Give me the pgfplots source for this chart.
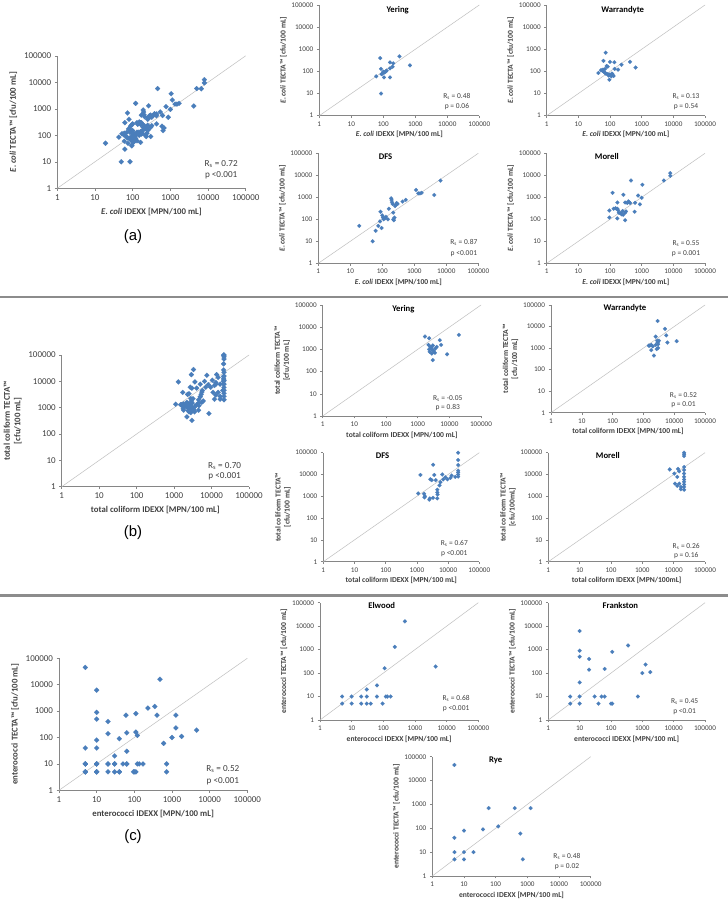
\documentclass[border=0pt]{standalone}
\usepackage{fontspec}
\setmainfont{Carlito}
\newfontfamily\arialfont{Liberation Sans}
\usepackage{pgfplots}
\usepackage{pgfplotstable}
\pgfplotsset{compat=1.18}
\definecolor{mk}{HTML}{4A7EBB}
\definecolor{axg}{HTML}{868686}
\definecolor{diag}{HTML}{BFBFBF}
\definecolor{tl}{HTML}{404040}
\definecolor{sep}{HTML}{8C8C8C}

% ---------- E. coli ----------
\pgfplotstableread{
x y
80 400
85 130
85 10
320 480
60 60
100 97
127 108
105 54
88 76
162 257
205 230
162 138
195 163
162 54
680 188
110 90
120 100
95 80
}\EYer
\pgfplotstableread{
x y
73 700
62 300
100 270
137 260
430 270
230 200
640 150
140 130
78 175
85 165
43 85
52 115
58 105
65 95
70 85
75 78
85 75
95 72
100 68
90 65
110 60
120 75
130 62
95 42
70 130
60 120
115 80
180 120
}\EWar
\pgfplotstableread{
x y
19 50
50 10
62 30
75 50
85 80
88 220
95 40
100 150
105 120
110 100
120 110
150 100
160 300
190 900
195 750
200 600
210 500
220 200
230 90
240 120
250 400
260 450
280 550
300 500
430 640
540 760
1130 2150
1330 1500
1500 1500
1700 1600
4200 1270
6600 5700
220 100
130 130
}\EDFS
\pgfplotstableread{
x y
120 1600
460 5800
1050 3700
5000 5800
8000 12500
8000 9500
265 1300
770 1200
380 650
430 550
300 580
620 560
880 480
1000 950
170 580
95 250
95 120
130 300
150 320
170 300
180 260
170 110
190 200
210 190
230 170
250 240
260 160
300 90
300 200
320 230
600 220
400 600
350 560
}\EMor
% ---------- total coliform ----------
\pgfplotstableread{
x y
1700 3800
2300 3200
2200 1600
2500 1300
2800 1000
3200 850
2400 780
2800 650
3600 1100
4000 1300
5000 2600
5500 1600
3500 700
3000 330
8500 600
20000 4500
3000 1500
2300 1000
2700 1200
}\TYer
\pgfplotstableread{
x y
2900 18000
5000 7800
5500 3900
6000 1800
12000 2100
2500 3400
2800 2200
3000 1500
1600 1300
1800 1400
2000 1200
1800 800
2200 450
2700 900
3000 1000
2500 1400
2900 1800
3200 2200
1500 1300
}\TWar
\pgfplotstableread{
x y
1300 9500
3300 28000
2700 6000
1100 1350
1700 1300
1800 1000
1750 900
2600 800
2500 700
3300 850
4500 1500
4500 2000
4600 1200
4500 800
3600 9500
4000 5500
5300 3200
5700 4500
6500 10000
7000 6000
8200 7500
9500 6000
12000 7000
13000 9000
17000 7800
21000 99000
21000 46000
21000 27000
21000 15000
21000 12400
21000 10000
21000 8000
3000 5500
}\TDFS
\pgfplotstableread{
x y
7500 17000
10500 11000
13700 18000
15000 14000
13000 7800
11000 3800
13000 3000
15000 3800
17000 2700
17000 2100
21500 100000
21500 85000
21500 70000
21500 22000
21500 16000
21500 11000
21500 7800
21500 5900
21500 4600
21500 3500
21500 2700
21500 2000
}\TMor
% ---------- enterococci ----------
\pgfplotstableread{
x y
5 10
5 5
10 10
10 5
20 10
20 5
30 20
30 10
30 5
40 5
63 30
63 10
95 5
110 160
120 10
135 10
170 10
230 1300
480 16000
4500 190
}\CElw
\pgfplotstableread{
x y
5 10
5 5
10 6200
10 900
10 500
10 40
10 10
10 5
20 400
20 140
30 10
40 5
50 10
63 150
63 10
100 5
110 5
110 800
350 1500
720 10
1000 100
1270 230
1800 110
}\CFra
\pgfplotstableread{
x y
5 45000
5 40
5 10
5 5
10 80
10 10
10 5
20 10
40 90
60 700
120 120
400 700
600 60
720 5
1270 700
}\CRye

\pgfplotsset{
  scale only axis, anchor=south west,
  xmin=1, xmax=100000, ymin=1, ymax=100000,
  xtick={1,10,100,1000,10000,100000}, ytick={1,10,100,1000,10000,100000},
  xticklabels={1,10,100,1000,10000,100000}, yticklabels={1,10,100,1000,10000,100000},
  xminorticks=false, yminorticks=false,
  axis lines=left, axis line style={draw=axg, line width=0.5bp, -},
  xtick pos=bottom, ytick pos=left,
  major tick style={draw=axg, line width=0.5bp},
  tick align=outside, major tick length=2.5bp,
  tick label style={text=tl},
  clip=false,
}
\pgfplotsset{
  mysmall/.style={
    tick label style={font=\fontsize{7.2}{8}\selectfont},
    label style={font=\fontsize{7.6}{9}\selectfont\bfseries, text=tl, align=center},
    xlabel style={yshift=2bp}, ylabel style={yshift=-2bp},
  },
  mybig/.style={
    tick label style={font=\fontsize{9}{10}\selectfont},
    label style={font=\fontsize{8.8}{10.5}\selectfont\bfseries, text=tl, align=center},
    xlabel style={yshift=-1bp},
  },
  pts/.style={only marks, mark=square*, mark size=1.4bp,
    mark options={rotate=45, fill=mk, draw=mk, line width=0.1bp}},
  bpts/.style={only marks, mark=square*, mark size=1.8bp,
    mark options={rotate=45, fill=mk, draw=mk, line width=0.1bp}},
  dg/.style={draw=diag, line width=0.5bp, no marks},
}
\tikzset{
  rs/.style={font=\fontsize{7.5}{9}\selectfont, text=tl, anchor=center},
  brs/.style={font=\fontsize{9.2}{11}\selectfont, text=tl, anchor=center},
  ttl/.style={font=\fontsize{8.7}{10}\selectfont\bfseries, text=black, anchor=center},
}

\begin{document}
\begin{tikzpicture}
\useasboundingbox (0,0) rectangle (728bp,899bp);
\fill[white] (0,0) rectangle (728bp,899bp);

% separators
\draw[sep, line width=2.8bp] (0,602bp) -- (728bp,602bp);
\draw[sep, line width=2.8bp] (0,303.3bp) -- (728bp,303.3bp);

% ===== (a) =====
\begin{loglogaxis}[mybig, at={(57.3bp,710.7bp)}, width=188.4bp, height=132.5bp,
  xlabel={\textit{E. coli} IDEXX [MPN/100 mL]},
  ylabel={\textit{E. coli} TECTA™ [cfu/100 mL]}]
\addplot[dg] coordinates {(1,1) (100000,100000)};
\addplot[bpts] table[x=x,y=y] {\EYer};
\addplot[bpts] table[x=x,y=y] {\EWar};
\addplot[bpts] table[x=x,y=y] {\EDFS};
\addplot[bpts] table[x=x,y=y] {\EMor};
\node[brs] at (rel axis cs:0.87,0.18) {R\textsubscript{s} = 0.72};
\node[brs] at (rel axis cs:0.87,0.095) {p <0.001};
\end{loglogaxis}

\begin{loglogaxis}[mysmall, at={(319.3bp,783.3bp)}, width=160bp, height=110.7bp,
  xlabel={\textit{E. coli} IDEXX [MPN/100 mL]},
  ylabel={\textit{E. coli} TECTA™ [cfu/100 mL]}]
\addplot[dg] coordinates {(1,1) (100000,100000)};
\addplot[pts] table[x=x,y=y] {\EYer};
\node[rs] at (rel axis cs:0.86,0.17) {R\textsubscript{s} = 0.48};
\node[rs] at (rel axis cs:0.86,0.08) {p = 0.06};
\node[ttl] at (rel axis cs:0.49,0.955) {Yering};
\end{loglogaxis}

\begin{loglogaxis}[mysmall, at={(546.7bp,783.3bp)}, width=158.3bp, height=110.7bp,
  xlabel={\textit{E. coli} IDEXX [MPN/100 mL]},
  ylabel={\textit{E. coli} TECTA™ [cfu/100 mL]}]
\addplot[dg] coordinates {(1,1) (100000,100000)};
\addplot[pts] table[x=x,y=y] {\EWar};
\node[rs] at (rel axis cs:0.88,0.17) {R\textsubscript{s} = 0.13};
\node[rs] at (rel axis cs:0.88,0.08) {p = 0.54};
\node[ttl] at (rel axis cs:0.48,0.955) {Warrandyte};
\end{loglogaxis}

\begin{loglogaxis}[mysmall, at={(318.3bp,635.7bp)}, width=160bp, height=110bp,
  xlabel={\textit{E. coli} IDEXX [MPN/100 mL]},
  ylabel={\textit{E. coli} TECTA™ [cfu/100 mL]}]
\addplot[dg] coordinates {(1,1) (100000,100000)};
\addplot[pts] table[x=x,y=y] {\EDFS};
\node[rs] at (rel axis cs:0.91,0.19) {R\textsubscript{s} = 0.87};
\node[rs] at (rel axis cs:0.91,0.09) {p <0.001};
\node[ttl] at (rel axis cs:0.42,0.965) {DFS};
\end{loglogaxis}

\begin{loglogaxis}[mysmall, at={(546.7bp,635.7bp)}, width=158.3bp, height=110bp,
  xlabel={\textit{E. coli} IDEXX [MPN/100 mL]},
  ylabel={\textit{E. coli} TECTA™ [cfu/100 mL]}]
\addplot[dg] coordinates {(1,1) (100000,100000)};
\addplot[pts] table[x=x,y=y] {\EMor};
\node[rs] at (rel axis cs:0.88,0.175) {R\textsubscript{s} = 0.55};
\node[rs] at (rel axis cs:0.88,0.085) {p = 0.001};
\node[ttl] at (rel axis cs:0.38,0.97) {Morell};
\end{loglogaxis}

\node[font=\arialfont\fontsize{15}{18}\selectfont] at (133bp,662bp) {(a)};

% ===== (b) =====
\begin{loglogaxis}[mybig, at={(61.7bp,412.3bp)}, width=187.3bp, height=131.7bp,
  xlabel={total coliform IDEXX [MPN/100 mL]},
  ylabel={total coliform TECTA™\\{}[cfu/100 mL]}]
\addplot[dg] coordinates {(1,1) (100000,100000)};
\addplot[bpts] table[x=x,y=y] {\TYer};
\addplot[bpts] table[x=x,y=y] {\TWar};
\addplot[bpts] table[x=x,y=y] {\TDFS};
\addplot[bpts] table[x=x,y=y] {\TMor};
\node[brs] at (rel axis cs:0.87,0.16) {R\textsubscript{s} = 0.70};
\node[brs] at (rel axis cs:0.87,0.076) {p <0.001};
\end{loglogaxis}

\begin{loglogaxis}[mysmall, at={(322.7bp,483bp)}, width=158.3bp, height=111bp,
  xlabel={total coliform IDEXX [MPN/100 mL]},
  ylabel={total coliform TECTA™\\{}[cfu/100 mL]}]
\addplot[dg] coordinates {(1,1) (100000,100000)};
\addplot[pts] table[x=x,y=y] {\TYer};
\node[rs] at (rel axis cs:0.79,0.16) {R\textsubscript{s} = -0.05};
\node[rs] at (rel axis cs:0.79,0.08) {p = 0.83};
\node[ttl] at (rel axis cs:0.51,0.965) {Yering};
\end{loglogaxis}

\begin{loglogaxis}[mysmall, at={(551bp,486.3bp)}, width=154bp, height=107.7bp,
  xlabel={total coliform IDEXX [MPN/100 mL]},
  ylabel={total coliform TECTA™\\{}[cfu/100 mL]}]
\addplot[dg] coordinates {(1,1) (100000,100000)};
\addplot[pts] table[x=x,y=y] {\TWar};
\node[rs] at (rel axis cs:0.86,0.155) {R\textsubscript{s} = 0.52};
\node[rs] at (rel axis cs:0.86,0.07) {p = 0.01};
\node[ttl] at (rel axis cs:0.48,0.97) {Warrandyte};
\end{loglogaxis}

\begin{loglogaxis}[mysmall, at={(323.3bp,337.3bp)}, width=156bp, height=109bp,
  xlabel={total coliform IDEXX [MPN/100 mL]},
  ylabel={total coliform TECTA™\\{}[cfu/100 mL]}]
\addplot[dg] coordinates {(1,1) (100000,100000)};
\addplot[pts] table[x=x,y=y] {\TDFS};
\node[rs] at (rel axis cs:0.84,0.17) {R\textsubscript{s} = 0.67};
\node[rs] at (rel axis cs:0.84,0.077) {p <0.001};
\node[ttl] at (rel axis cs:0.38,0.97) {DFS};
\end{loglogaxis}

\begin{loglogaxis}[mysmall, at={(548.3bp,337.3bp)}, width=156.7bp, height=109bp,
  xlabel={total coliform IDEXX [MPN/100mL]},
  ylabel={total coliform TECTA™\\{}[cfu/100mL]}]
\addplot[dg] coordinates {(1,1) (100000,100000)};
\addplot[pts] table[x=x,y=y] {\TMor};
\node[rs] at (rel axis cs:0.88,0.144) {R\textsubscript{s} = 0.26};
\node[rs] at (rel axis cs:0.88,0.06) {p = 0.16};
\node[ttl] at (rel axis cs:0.38,0.97) {Morell};
\end{loglogaxis}

\node[font=\arialfont\fontsize{15}{18}\selectfont] at (133bp,366bp) {(b)};

% ===== (c) =====
\begin{loglogaxis}[mybig, at={(59bp,108.7bp)}, width=188.3bp, height=132bp,
  xlabel={enterococci IDEXX [MPN/100 mL]},
  ylabel={enterococci TECTA™ [cfu/100 mL]}]
\addplot[dg] coordinates {(1,1) (100000,100000)};
\addplot[bpts] table[x=x,y=y] {\CElw};
\addplot[bpts] table[x=x,y=y] {\CFra};
\addplot[bpts] table[x=x,y=y] {\CRye};
\node[brs] at (rel axis cs:0.87,0.16) {R\textsubscript{s} = 0.52};
\node[brs] at (rel axis cs:0.87,0.065) {p <0.001};
\end{loglogaxis}

\begin{loglogaxis}[mysmall, at={(320bp,179bp)}, width=158.3bp, height=117.3bp,
  xlabel={enterococci IDEXX [MPN/100 mL]},
  ylabel={enterococci TECTA™ [cfu/100 mL]}]
\addplot[dg] coordinates {(1,1) (100000,100000)};
\addplot[pts] table[x=x,y=y] {\CElw};
\node[rs] at (rel axis cs:0.86,0.18) {R\textsubscript{s} = 0.68};
\node[rs] at (rel axis cs:0.86,0.094) {p <0.001};
\node[ttl] at (rel axis cs:0.39,0.98) {Elwood};
\end{loglogaxis}

\begin{loglogaxis}[mysmall, at={(548.3bp,179bp)}, width=156.7bp, height=117.3bp,
  xlabel={enterococci IDEXX [MPN/100 mL]},
  ylabel={enterococci TECTA™ [cfu/100 mL]}]
\addplot[dg] coordinates {(1,1) (100000,100000)};
\addplot[pts] table[x=x,y=y] {\CFra};
\node[rs] at (rel axis cs:0.87,0.156) {R\textsubscript{s} = 0.45};
\node[rs] at (rel axis cs:0.87,0.07) {p <0.01};
\node[ttl] at (rel axis cs:0.46,0.98) {Frankston};
\end{loglogaxis}

\begin{loglogaxis}[mysmall, at={(432.3bp,23bp)}, width=158.4bp, height=119.3bp,
  xlabel={enterococci IDEXX [MPN/100 mL]},
  ylabel={enterococci TECTA™ [cfu/100 mL]}]
\addplot[dg] coordinates {(1,1) (100000,100000)};
\addplot[pts] table[x=x,y=y] {\CRye};
\node[rs] at (rel axis cs:0.85,0.16) {R\textsubscript{s} = 0.48};
\node[rs] at (rel axis cs:0.85,0.078) {p = 0.02};
\node[ttl] at (rel axis cs:0.40,0.97) {Rye};
\end{loglogaxis}

\node[font=\arialfont\fontsize{15}{18}\selectfont] at (133bp,62bp) {(c)};
\end{tikzpicture}
\end{document}
